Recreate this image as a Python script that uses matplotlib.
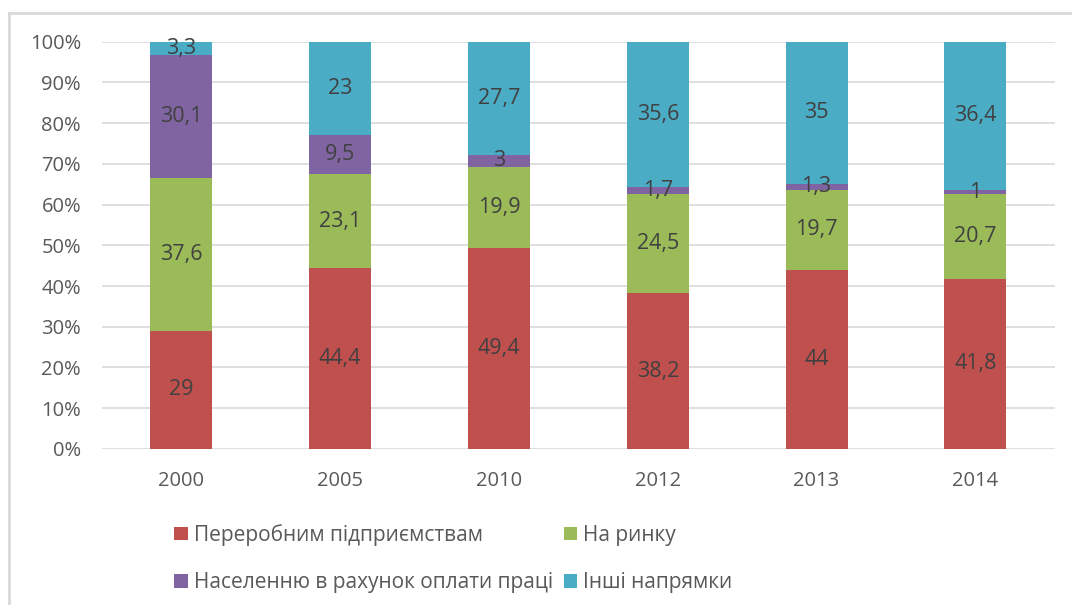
import matplotlib.pyplot as plt
from matplotlib.lines import Line2D
import numpy as np

plt.rcParams['font.family'] = ['Open Sans', 'DejaVu Sans']

years = ['2000', '2005', '2010', '2012', '2013', '2014']
processing = [29, 44.4, 49.4, 38.2, 44, 41.8]
market = [37.6, 23.1, 19.9, 24.5, 19.7, 20.7]
population = [30.1, 9.5, 3, 1.7, 1.3, 1]
other = [3.3, 23, 27.7, 35.6, 35, 36.4]

series = [processing, market, population, other]
names = ['Переробним підприємствам', 'На ринку',
         'Населенню в рахунок оплати праці', 'Інші напрямки']
colors = ['#C0504D', '#9BBB59', '#8064A2', '#4BACC6']

fig = plt.figure(figsize=(10.72, 6.05), dpi=100)
ax = fig.add_axes([0.095, 0.258, 0.889, 0.673])

data = np.array(series, dtype=float)
totals = data.sum(axis=0)
pct = data / totals * 100
x = np.arange(len(years))
bottom = np.zeros(len(years))
handles = []
for vals, p, name, c in zip(data, pct, names, colors):
    bars = ax.bar(x, p, 0.39, bottom=bottom, color=c, label=name, zorder=2)
    handles.append(bars)
    labels = [f'{v:g}'.replace('.', ',') for v in vals]
    ax.bar_label(bars, labels=labels, label_type='center', color='#404040',
                 fontsize=15.5)
    bottom += p

ax.set_xlim(-0.5, len(years) - 0.5)
ax.set_ylim(0, 100)
ax.set_yticks(np.arange(0, 101, 10))
ax.set_yticklabels([f'{t}%' for t in range(0, 101, 10)])
ax.set_xticks(x)
ax.set_xticklabels(years)
ax.tick_params(axis='both', length=0, labelsize=14.5, colors='#595959')
ax.tick_params(axis='y', pad=15)
ax.tick_params(axis='x', pad=16)
ax.yaxis.grid(True, color='#D9D9D9', linewidth=1.2, zorder=0)
ax.set_axisbelow(True)
for s in ax.spines.values():
    s.set_visible(False)

# matplotlib fills legend column by column, reorder for row layout
order = [0, 2, 1, 3]
fig.legend(handles=[handles[i] for i in order],
           labels=[names[i] for i in order], ncol=2, loc='lower left',
           bbox_to_anchor=(0.145, -0.011), frameon=False, fontsize=15,
           handlelength=0.65, handleheight=0.65, handletextpad=0.3,
           columnspacing=0.5, labelspacing=1.25, labelcolor='#595959')

fig.add_artist(Line2D([9 / 1072, 9 / 1072], [0, 1 - 13 / 605],
                      transform=fig.transFigure, color='#D9D9D9', lw=2))
fig.add_artist(Line2D([9 / 1072, 1], [1 - 13 / 605, 1 - 13 / 605],
                      transform=fig.transFigure, color='#D9D9D9', lw=2))

fig.savefig('out.png', dpi=100)
